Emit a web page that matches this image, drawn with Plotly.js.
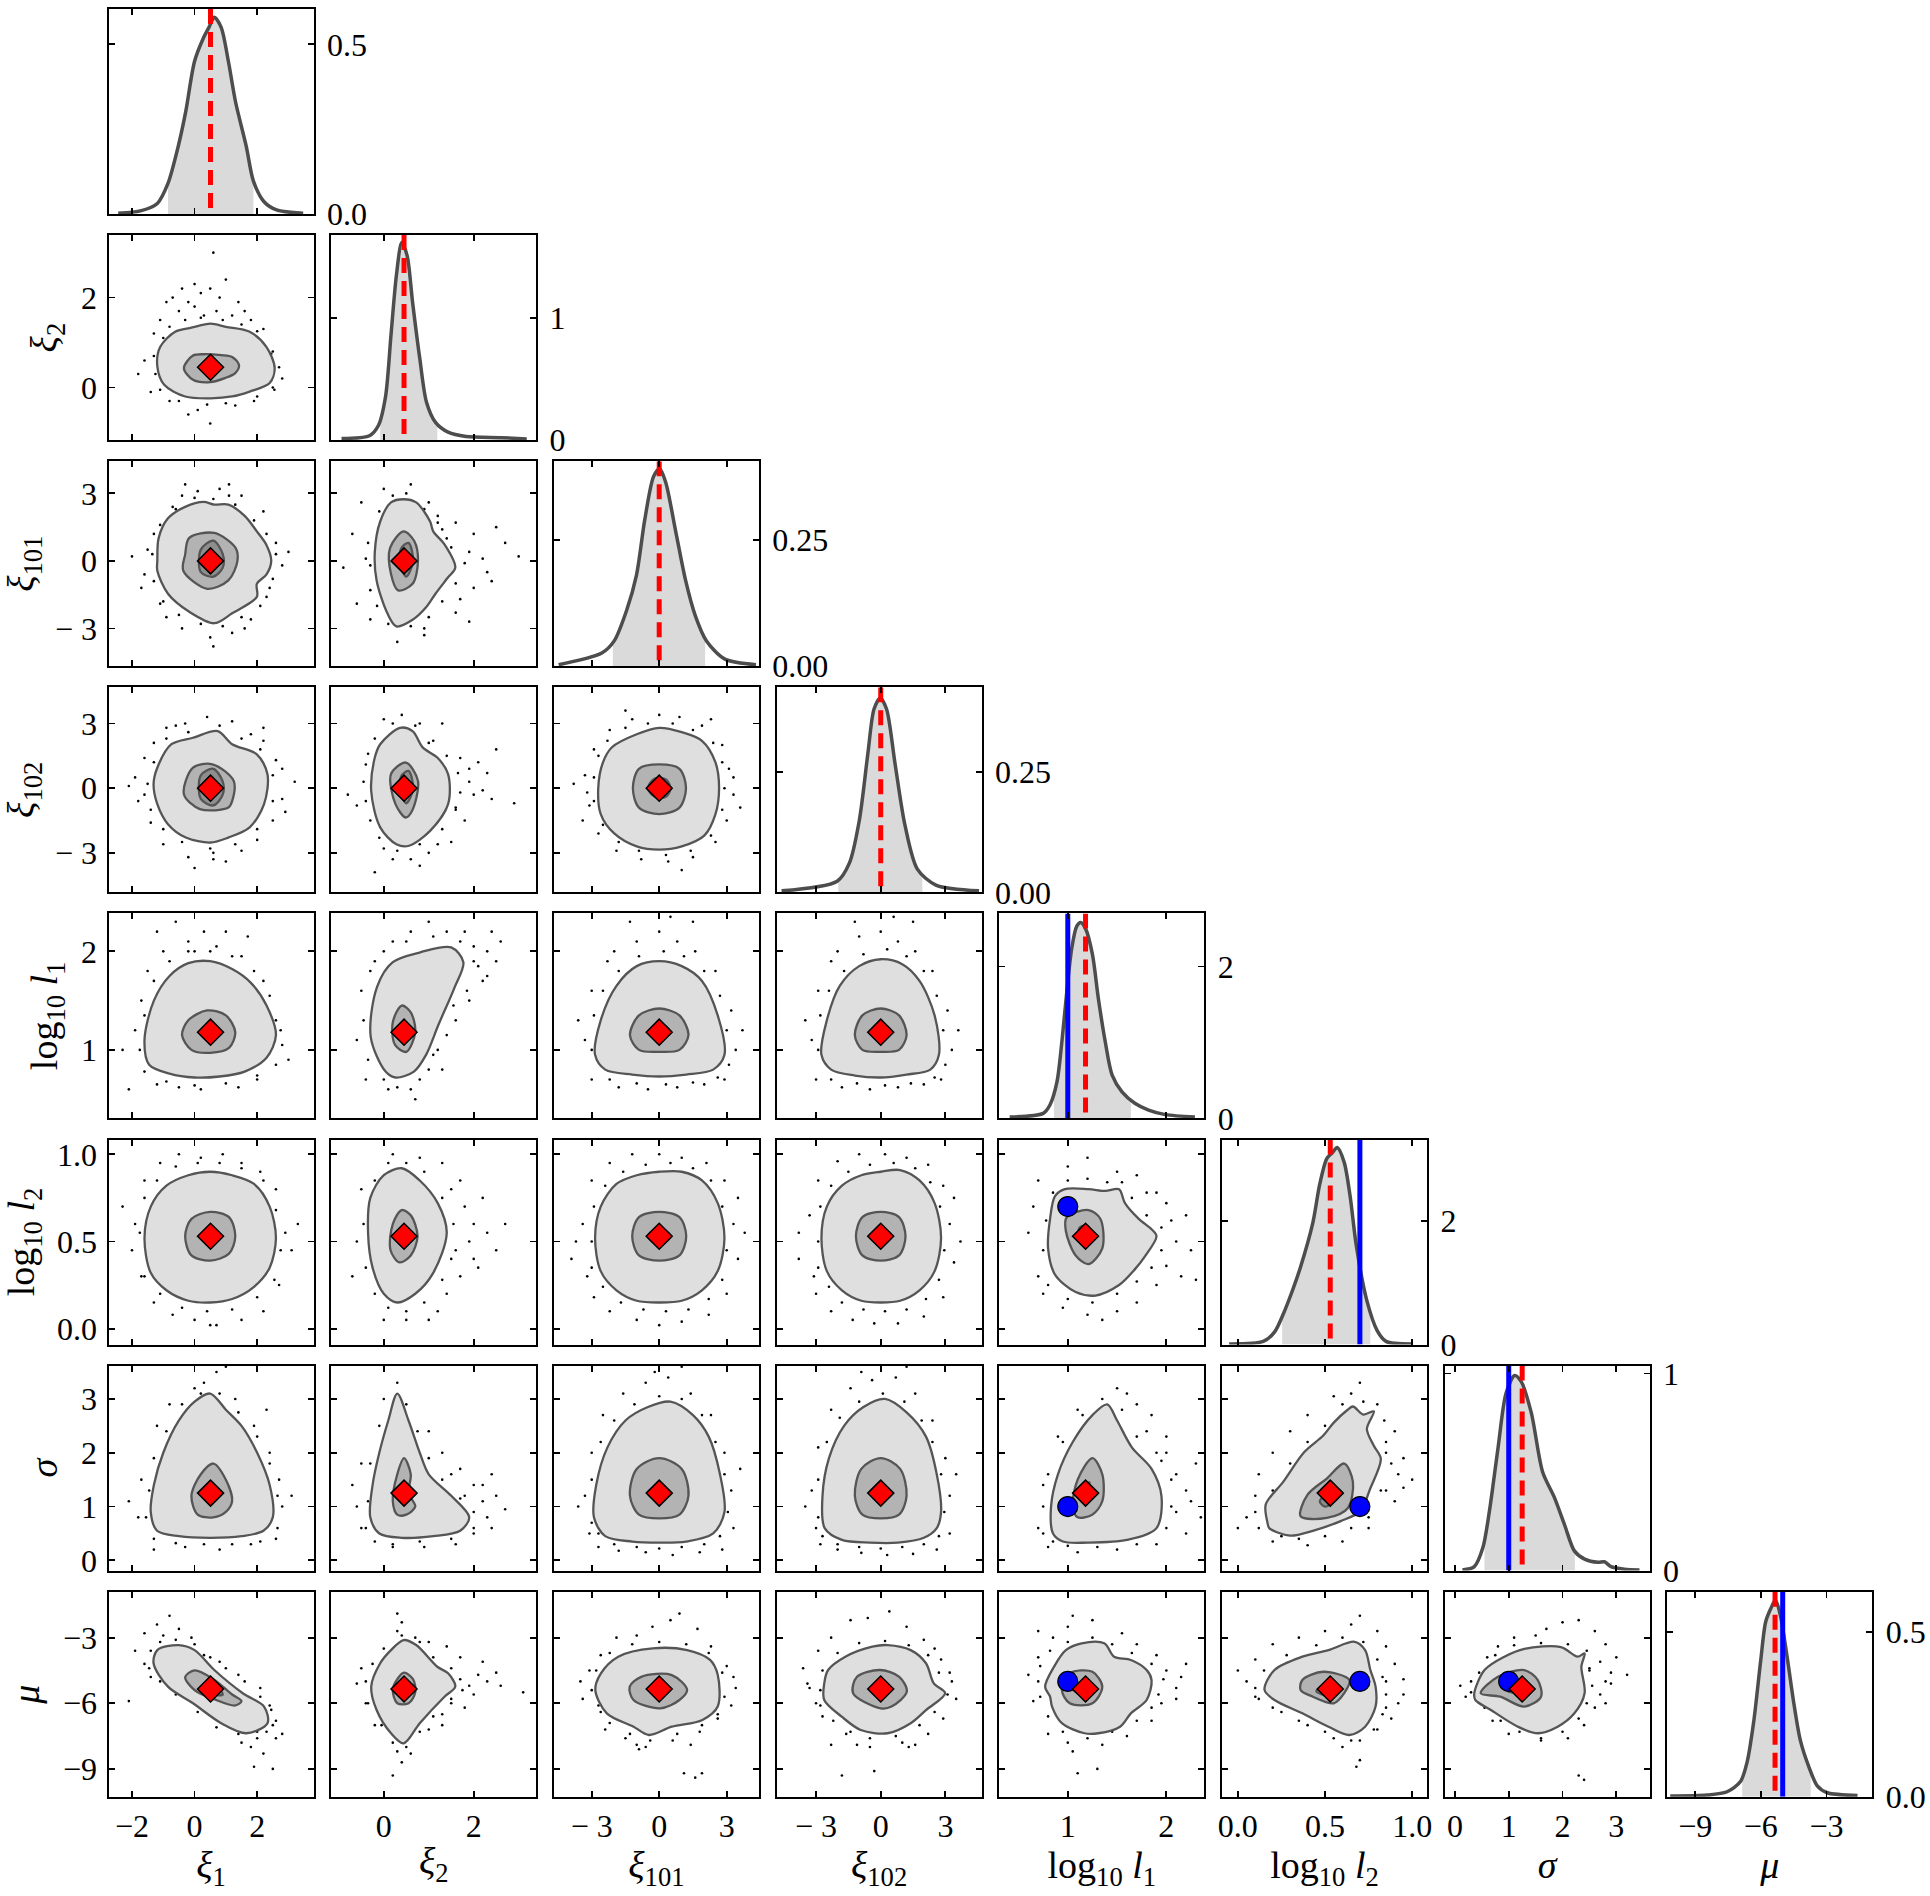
<!DOCTYPE html>
<html><head><meta charset="utf-8">
<script src="https://cdn.plot.ly/plotly-3.0.1.min.js"></script>
<style>html,body{margin:0;padding:0;background:#fff}</style>
</head><body>
<div id="plot" style="width:1930px;height:1896px"></div>
<script>
// ---------------- variables / axes ----------------
const VAR_TITLES = ['<i>ξ</i><sub>1</sub>','<i>ξ</i><sub>2</sub>','<i>ξ</i><sub>101</sub>','<i>ξ</i><sub>102</sub>','log<sub>10</sub> <i>l</i><sub>1</sub>','log<sub>10</sub> <i>l</i><sub>2</sub>','<i>σ</i>','<i>μ</i>'];
const AXIS_RANGES = [[-2.75,3.8],[-1.17,3.39],[-4.68,4.43],[-4.83,4.68],[0.305,2.385],[-0.091,1.085],[-0.19,3.62],[-10.27,-0.9]];
const TICK_VALS = [[-2,0,2],[0,2],[-3,0,3],[-3,0,3],[1,2],[0,0.5,1],[0,1,2,3],[-9,-6,-3]];
const TICK_TEXT = [['−2','0','2'],['0','2'],['− 3','0','3'],['− 3','0','3'],['1','2'],['0.0','0.5','1.0'],['0','1','2','3'],['−9','−6','−3']];
const MEDIAN = [0.51,0.45,0.0,0.0,1.18,0.53,1.25,-5.35];
const TRUTH = [null,null,null,null,1.0,0.70,1.0,-5.0];
const DIAG_YMAX = [0.604,1.68,0.405,0.425,2.70,3.32,1.04,0.622];
const DIAG_TICK_VALS = [[0,0.5],[0,1],[0,0.25],[0,0.25],[0,2],[0,2],[0,1],[0,0.5]];
const DIAG_TICK_TEXT = [['0.0','0.5'],['0','1'],['0.00','0.25'],['0.00','0.25'],['0','2'],['0','2'],['0','1'],['0.0','0.5']];
const SHADE = [[-0.85,1.88],[-0.08,1.19],[-2.06,2.04],[-1.97,1.93],[0.86,1.64],[0.254,0.76],[0.55,2.23],[-6.85,-3.72]];

// ---------------- 1D marginal densities ----------------
const kde_xi1_x = [-2.44,-1.7,-1.19,-0.85,-0.51,-0.28,0,0.29,0.46,0.63,0.85,1.08,1.31,1.65,1.88,2.22,2.62,3.47];
const kde_xi1_y = [0.002,0.01,0.031,0.09,0.204,0.303,0.45,0.52,0.55,0.58,0.55,0.45,0.33,0.20,0.097,0.036,0.012,0.002];
const kde_xi2_x = [-0.94,-0.32,-0.12,0.04,0.16,0.28,0.40,0.52,0.64,0.80,0.95,1.15,1.43,1.83,2.62,3.18];
const kde_xi2_y = [0.014,0.036,0.12,0.36,0.86,1.35,1.62,1.51,1.13,0.67,0.31,0.145,0.065,0.03,0.02,0.01];
const kde_xi101_x = [-4.47,-2.55,-2.0,-1.45,-1.01,-0.64,-0.25,0.02,0.29,0.73,1.17,1.61,2.10,2.92,4.30];
const kde_xi101_y = [0.003,0.026,0.05,0.11,0.18,0.29,0.375,0.39,0.363,0.267,0.17,0.099,0.05,0.014,0.003];
const kde_xi102_x = [-4.6,-2.02,-1.45,-0.99,-0.59,-0.31,-0.02,0.27,0.67,1.13,1.70,2.56,4.56];
const kde_xi102_y = [0.003,0.023,0.061,0.15,0.29,0.38,0.403,0.38,0.265,0.138,0.048,0.015,0.003];
const kde_l1_x = [0.41,0.75,0.82,0.89,0.94,0.99,1.04,1.09,1.13,1.18,1.25,1.31,1.38,1.45,1.55,1.68,1.82,1.99,2.29];
const kde_l1_y = [0.02,0.066,0.18,0.48,1.01,1.67,2.24,2.53,2.58,2.50,2.16,1.58,1.01,0.57,0.35,0.20,0.11,0.05,0.02];
const kde_l2_x = [-0.05,0.146,0.21,0.26,0.31,0.36,0.43,0.47,0.51,0.54,0.57,0.61,0.644,0.68,0.74,0.80,0.85,1.0];
const kde_l2_y = [0.01,0.05,0.2,0.49,0.85,1.26,1.97,2.6,3.01,3.1,3.19,2.95,2.4,1.59,0.71,0.22,0.05,0.01];
const kde_sigma_x = [0.14,0.36,0.52,0.64,0.80,0.95,1.11,1.23,1.42,1.63,1.85,2.04,2.22,2.41,2.66,2.78,2.90,3.15,3.43];
const kde_sigma_y = [0.003,0.02,0.117,0.30,0.62,0.90,0.99,0.96,0.80,0.50,0.37,0.23,0.10,0.058,0.042,0.045,0.02,0.007,0.003];
const kde_mu_x = [-10.14,-8.46,-7.54,-6.93,-6.62,-6.32,-6.01,-5.78,-5.55,-5.33,-5.10,-4.80,-4.49,-4.19,-3.80,-3.42,-2.96,-1.58];
const kde_mu_y = [0.002,0.005,0.015,0.046,0.107,0.23,0.41,0.53,0.57,0.597,0.548,0.425,0.283,0.17,0.09,0.033,0.012,0.004];
const KDE = [[kde_xi1_x,kde_xi1_y],[kde_xi2_x,kde_xi2_y],[kde_xi101_x,kde_xi101_y],[kde_xi102_x,kde_xi102_y],[kde_l1_x,kde_l1_y],[kde_l2_x,kde_l2_y],[kde_sigma_x,kde_sigma_y],[kde_mu_x,kde_mu_y]];

// ---------------- 2D panels: contour outlines and outlying samples ----------------
const c10_outer = [[2.56,0.43],[2.3,0.9],[1.76,1.24],[1.0,1.35],[0.51,1.42],[-0.1,1.33],[-0.62,1.24],[-1.1,0.9],[-1.19,0.47],[-0.97,0.06],[-0.3,-0.2],[0.51,-0.24],[1.2,-0.2],[1.76,-0.09],[2.4,0.1]];
const c10_mid = [[1.42,0.5],[1.2,0.68],[0.85,0.72],[0.3,0.74],[-0.05,0.71],[-0.34,0.43],[-0.05,0.17],[0.5,0.12],[0.97,0.21],[1.3,0.32]];
const c10_inner = [[0.8,0.45],[0.6,0.55],[0.3,0.55],[0.2,0.45],[0.4,0.35],[0.7,0.35]];
const c10_dots = [[0.6,3.0],[-0.4,2.2],[0.0,2.3],[0.2,2.1],[0.8,2.0],[1.0,2.4],[1.4,1.9],[-0.9,1.9],[-0.5,1.7],[0.3,1.6],[1.2,1.6],[1.8,1.5],[-1.1,1.5],[2.2,1.3],[-1.3,1.2],[-1.8,0.3],[2.5,0.0],[2.8,0.2],[-1.4,-0.1],[-0.8,-0.3],[0.1,-0.5],[1.3,-0.4],[0.5,-0.8],[-0.2,-0.6],[1.9,-0.3],[-1.6,0.6],[0.7,1.7],[-0.2,1.9],[1.6,1.7],[2.5,0.8],
 [-1.3,0.7],[-1.25,0.3],[-1.0,1.1],[-0.8,1.35],[-0.3,1.5],[0.2,1.55],[0.9,1.5],[1.5,1.4],[2.0,1.25],[2.45,0.75],[2.7,0.45],[2.55,-0.05],[2.0,-0.2],[1.0,-0.35],[0.4,-0.38],[-0.5,-0.3],[-1.1,-0.05],[0.0,1.8],[0.5,2.2],[-0.7,2.0]];
const c20_outer = [[2.45,0],[2.3,0.7],[1.99,1.31],[1.6,2.0],[1.08,2.5],[0.63,2.5],[0.29,2.62],[-0.3,2.4],[-0.85,1.89],[-1.15,1.0],[-1.19,0],[-1.19,-0.44],[-0.85,-1.46],[-0.17,-2.26],[0.63,-2.77],[1.2,-2.33],[1.99,-1.6],[1.99,-1.02],[2.3,-0.6]];
const c20_mid = [[1.37,0],[1.31,0.58],[0.63,1.24],[-0.17,1.02],[-0.3,0.29],[-0.36,-0.44],[0.4,-1.24],[1.08,-0.87]];
const c20_inner = [[0.9,0.3],[0.6,0.9],[0.2,0.5],[0.2,-0.5],[0.6,-0.7],[0.9,-0.3]];
const c20_dots = [[-1.5,0.5],[-1.6,-0.6],[-1.3,1.2],[-1.1,-1.9],[-0.7,2.4],[-0.4,2.9],[0.1,3.1],[0.8,3.2],[1.5,2.9],[2.2,2.2],[2.6,0.8],[3.0,0.4],[2.5,-0.8],[2.3,-1.6],[1.8,-2.6],[1.2,-3.2],[0.5,-3.4],[-0.4,-3.0],[-0.9,-2.5],[-2.0,0.2],[0.6,-3.8],[1.6,-3.0],[-0.3,3.4],[1.1,3.4],
 [-1.35,0.3],[-1.3,-0.9],[-1.1,1.6],[-0.6,2.3],[0.0,2.8],[0.6,2.75],[1.3,2.5],[1.9,1.8],[2.3,1.2],[2.6,0.3],[2.4,-1.2],[2.1,-2.0],[1.5,-2.5],[0.9,-2.9],[0.2,-2.8],[-0.5,-2.4],[-1.0,-1.8],[2.8,-0.2],[-1.7,-1.2],[1.1,2.9]];
const c21_outer = [[0.44,2.74],[0.72,2.6],[1.03,1.75],[1.1,1.31],[1.35,0.73],[1.59,-0.3],[1.43,-0.73],[1.15,-1.46],[0.95,-2.04],[0.64,-2.62],[0.28,-2.91],[0.08,-2.33],[-0.16,-0.87],[-0.2,0.4],[-0.08,1.75],[0.16,2.6]];
const c21_mid = [[0.44,1.31],[0.68,0.87],[0.76,0],[0.64,-1.02],[0.32,-1.31],[0.16,-0.58],[0.14,0.58]];
const c21_inner = [[0.55,0.8],[0.65,0],[0.5,-0.7],[0.35,0],[0.4,0.6]];
const c21_dots = [[-0.5,2.6],[-0.7,1.2],[-0.9,-0.3],[-0.6,-1.9],[0.0,3.2],[0.6,3.4],[1.0,2.6],[1.2,2.0],[1.6,1.7],[2.0,1.2],[2.5,1.5],[2.7,0.8],[3.0,0.2],[2.3,-0.5],[2.0,-1.2],[1.6,-2.3],[1.9,-2.7],[0.9,-3.0],[0.3,-3.6],[-0.3,-2.6],[1.9,0.4],[2.4,-0.9],[1.4,1.0],[1.7,-1.7],
 [-0.35,0.8],[-0.3,-0.2],[-0.3,-1.3],[-0.1,2.2],[0.2,2.9],[0.5,3.0],[0.9,2.3],[1.3,1.4],[1.5,0.6],[1.8,-0.1],[1.6,-1.0],[1.3,-1.8],[1.0,-2.5],[0.6,-2.9],[0.1,-2.8],[-0.15,-2.0],[2.2,0.1],[1.2,1.7],[0.9,-3.3],[-0.4,0.1]];
const c30_outer = [[2.33,0.65],[1.99,1.57],[1.2,2.04],[0.74,2.65],[-0.05,2.34],[-0.74,2.04],[-1.19,0.95],[-1.31,0.19],[-1.19,-0.74],[-0.85,-1.67],[-0.28,-2.29],[0.51,-2.52],[1.08,-2.29],[1.76,-1.82],[2.22,-0.74]];
const c30_mid = [[1.25,0.34],[0.57,1.11],[-0.05,0.95],[-0.34,-0.28],[0.17,-0.97],[1.08,-0.9],[1.2,-0.6]];
const c30_inner = [[0.9,0.3],[0.6,0.9],[0.2,0.6],[0.2,-0.5],[0.6,-0.8],[0.9,-0.3]];
const c30_dots = [[-1.9,0.5],[-2.1,0.1],[-1.6,1.4],[-1.3,2.1],[-0.9,2.8],[-0.3,3.0],[0.4,3.3],[1.2,3.1],[1.8,2.5],[2.2,2.2],[2.6,1.3],[2.8,-0.5],[3.2,0.3],[2.5,-1.5],[2.0,-2.4],[1.5,-2.9],[0.6,-3.0],[-0.2,-3.2],[-1.0,-2.6],[-1.4,-1.6],[-1.8,-0.6],[0.0,-3.7],[0.6,-3.3],[2.2,2.8],
 [-1.5,0.2],[-1.4,-1.0],[-1.3,1.2],[-0.9,2.3],[-0.2,2.6],[0.8,2.9],[1.5,2.3],[2.1,1.8],[2.5,0.6],[2.5,-0.6],[2.0,-1.9],[1.3,-2.6],[0.5,-2.8],[-0.4,-2.5],[-1.0,-1.9],[-1.6,-0.3],[2.8,0.9],[1.0,-3.4],[-0.6,2.9],[2.9,-1.1]];
const c31_outer = [[0.36,2.8],[0.64,2.65],[0.87,1.88],[1.19,1.42],[1.43,0.65],[1.43,-0.74],[1.03,-1.98],[0.56,-2.67],[0.28,-2.6],[-0.08,-1.82],[-0.28,-0.13],[-0.2,1.42],[-0.08,2.04]];
const c31_mid = [[0.49,1.19],[0.76,0.34],[0.63,-1.05],[0.49,-1.36],[0.26,-0.74],[0.16,0.65]];
const c31_inner = [[0.55,0.8],[0.65,0],[0.5,-0.7],[0.35,0],[0.4,0.6]];
const c31_dots = [[-0.4,1.1],[-0.6,-0.8],[-0.8,-0.3],[0.0,3.2],[0.4,3.4],[0.8,3.0],[1.3,3.0],[1.1,2.2],[1.7,1.4],[2.1,1.2],[2.3,0.7],[2.5,1.8],[2.0,-0.3],[2.4,-0.5],[1.8,-1.5],[2.9,-0.7],[1.5,-2.5],[1.0,-3.0],[0.6,-3.3],[0.0,-2.8],[-0.2,-3.9],[1.9,0.3],[1.6,-0.9],[0.8,-3.6],
 [-0.45,0.3],[-0.4,-0.6],[-0.35,1.6],[-0.2,2.3],[0.2,3.0],[0.7,2.9],[1.0,2.1],[1.4,1.5],[1.65,0.7],[1.7,-0.2],[1.6,-1.0],[1.3,-1.9],[0.8,-2.6],[0.3,-2.9],[-0.1,-2.3],[-0.3,-1.5],[2.2,-0.1],[1.9,0.9],[1.2,-2.6],[0.2,-3.3]];
const c32_outer = [[2.66,0],[2.5,1.2],[1.9,2.2],[1.0,2.6],[0.0,2.8],[-1.0,2.5],[-2.1,1.9],[-2.5,1.2],[-2.71,0],[-2.6,-1.2],[-2.0,-2.1],[-1.0,-2.7],[0,-2.85],[1.0,-2.7],[2.0,-2.2],[2.5,-1.2]];
const c32_mid = [[1.19,0],[0.9,0.9],[0,1.1],[-0.9,0.9],[-1.17,0],[-0.9,-0.9],[0,-1.2],[0.9,-0.9]];
const c32_inner = [[0.5,0],[0.3,0.4],[-0.2,0.45],[-0.5,0],[-0.2,-0.4],[0.3,-0.4]];
const c32_dots = [[-3.3,0.6],[-3.1,-0.8],[-2.9,1.8],[-2.2,2.7],[-1.2,3.2],[0.0,3.4],[0.9,3.3],[1.9,2.9],[2.8,2.0],[3.1,0.9],[3.3,-0.3],[3.0,-1.5],[2.5,-2.5],[1.5,-3.2],[0.4,-3.4],[-0.8,-3.3],[-1.9,-2.9],[-2.7,-2.1],[-3.4,-1.5],[3.6,-0.9],[-3.8,0.2],[1.0,-3.8],[-1.5,3.6],[2.3,3.2],
 [-2.9,0.5],[-2.9,-0.6],[-2.7,1.5],[-2.3,2.2],[-1.5,2.8],[-0.5,3.0],[0.6,3.0],[1.5,2.7],[2.4,2.1],[2.8,1.2],[2.9,0.0],[2.8,-1.0],[2.3,-2.2],[1.4,-2.9],[0.3,-3.1],[-0.9,-2.9],[-1.8,-2.5],[-2.5,-1.7],[-3.2,-0.2],[3.3,0.5]];
const c40_outer = [[2.6,1.15],[2.3,1.45],[1.8,1.68],[1.2,1.82],[0.5,1.9],[-0.2,1.88],[-0.8,1.75],[-1.3,1.5],[-1.6,1.1],[-1.45,0.85],[-0.8,0.76],[0.0,0.72],[0.8,0.73],[1.6,0.78],[2.3,0.92]];
const c40_mid = [[1.3,1.18],[1.0,1.35],[0.4,1.4],[-0.2,1.3],[-0.4,1.15],[-0.1,1.0],[0.5,0.97],[1.1,1.02]];
const c40_inner = [[0.8,1.18],[0.5,1.27],[0.2,1.18],[0.5,1.1]];
const c40_dots = [[-0.6,2.3],[-0.2,2.1],[0.3,2.2],[0.7,2.05],[1.0,2.2],[-1.0,2.0],[1.5,1.95],[-1.5,1.8],[2.2,1.7],[2.6,1.3],[2.8,1.05],[-1.9,1.2],[-2.1,0.6],[-1.2,0.65],[0.2,0.6],[1.4,0.62],[2.0,0.7],[-0.5,0.62],[0.0,2.0],[-1.7,1.5],
 [-1.75,1.0],[-1.6,1.35],[-1.3,1.7],[-0.8,1.9],[-0.2,2.0],[0.5,2.0],[1.2,1.95],[1.9,1.8],[2.4,1.55],[2.75,1.2],[2.6,0.85],[2.0,0.74],[1.0,0.66],[0.0,0.64],[-0.9,0.68],[-1.6,0.78],[3.0,0.9],[-2.3,1.0],[1.7,2.15],[-1.2,2.2]];
const c41_outer = [[0.04,0.78],[-0.29,1.13],[-0.15,1.64],[0.2,1.89],[0.81,1.99],[1.5,2.04],[1.77,1.89],[1.58,1.64],[1.22,1.26],[0.94,0.95],[0.67,0.78],[0.26,0.72]];
const c41_mid = [[0.7,1.18],[0.6,1.38],[0.4,1.45],[0.2,1.28],[0.25,1.05],[0.5,0.98]];
const c41_inner = [[0.55,1.18],[0.45,1.25],[0.35,1.15],[0.45,1.1]];
const c41_dots = [[0.2,2.1],[0.6,2.2],[1.0,2.3],[1.4,2.2],[1.8,2.2],[2.0,2.05],[2.3,2.0],[2.5,1.9],[2.2,1.7],[1.9,1.5],[1.6,1.3],[1.2,1.0],[-0.5,1.6],[-0.6,1.1],[-0.4,0.7],[0.1,0.6],[0.6,0.6],[1.0,0.8],[-0.2,1.9],[2.6,2.1],[2.1,1.85],[1.3,0.8],
 [-0.45,1.3],[-0.35,0.9],[-0.3,1.8],[0.0,2.0],[0.5,2.1],[1.1,2.15],[1.7,2.1],[2.0,1.9],[1.85,1.6],[1.55,1.45],[1.4,1.15],[1.1,0.95],[0.8,0.7],[0.3,0.62],[0.0,0.7],[1.6,1.9],[2.3,1.75],[2.4,2.2],[-0.1,2.4],[0.7,0.5]];
const c42_outer = [[2.9,0.95],[2.6,1.35],[1.9,1.7],[1.0,1.85],[0,1.9],[-1.0,1.85],[-1.9,1.65],[-2.6,1.3],[-2.85,0.95],[-2.4,0.8],[-1.2,0.75],[0,0.73],[1.2,0.75],[2.4,0.8]];
const c42_mid = [[1.3,1.15],[0.9,1.35],[0,1.42],[-0.9,1.35],[-1.3,1.15],[-0.9,1.0],[0,0.98],[0.9,1.0]];
const c42_inner = [[0.5,1.18],[0.2,1.25],[-0.3,1.2],[0,1.12]];
const c42_dots = [[-2.0,2.0],[-1.0,2.1],[0,2.2],[0.8,2.1],[1.6,2.0],[2.5,1.8],[3.2,1.4],[3.4,1.0],[-3.0,1.6],[-3.3,1.1],[-3.0,0.7],[-1.8,0.62],[-0.5,0.6],[0.8,0.62],[2.0,0.65],[2.9,0.7],[-2.3,1.9],[1.5,2.3],
 [-3.0,1.0],[-2.9,1.35],[-2.5,1.6],[-1.8,1.8],[-0.9,1.95],[0.2,2.0],[1.1,1.95],[2.0,1.8],[2.7,1.55],[3.0,1.2],[3.1,0.85],[2.6,0.72],[1.5,0.67],[0.3,0.65],[-1.0,0.66],[-2.2,0.7],[-3.6,1.3],[3.7,1.2],[-1.3,2.3],[0.5,2.35]];
const c43_outer = [[2.7,0.95],[2.5,1.35],[1.8,1.7],[1.0,1.87],[0,1.92],[-1.0,1.85],[-1.9,1.65],[-2.5,1.3],[-2.75,0.95],[-2.3,0.8],[-1.2,0.74],[0,0.72],[1.2,0.75],[2.3,0.8]];
const c43_mid = [[1.2,1.15],[0.85,1.35],[0,1.42],[-0.85,1.35],[-1.2,1.15],[-0.85,1.0],[0,0.98],[0.85,1.0]];
const c43_inner = [[0.5,1.18],[0.2,1.25],[-0.3,1.2],[0,1.12]];
const c43_dots = [[-2.0,2.0],[-1.0,2.15],[0,2.2],[0.8,2.1],[1.6,2.0],[2.4,1.8],[3.1,1.4],[3.3,1.0],[-2.9,1.6],[-3.2,1.1],[-3.0,0.7],[-1.8,0.62],[-0.5,0.6],[0.8,0.62],[2.0,0.65],[2.8,0.7],[-2.3,1.9],[1.5,2.3],
 [-2.9,1.0],[-2.8,1.35],[-2.4,1.6],[-1.7,1.8],[-0.8,1.97],[0.3,2.02],[1.2,1.95],[2.0,1.8],[2.6,1.55],[2.9,1.2],[3.0,0.85],[2.5,0.72],[1.4,0.66],[0.2,0.64],[-1.1,0.66],[-2.3,0.7],[-3.5,1.3],[3.6,1.2],[-1.2,2.3],[0.6,2.35]];
const c50_outer = [[2.6,0.52],[2.4,0.7],[1.9,0.83],[1.2,0.88],[0.5,0.9],[-0.2,0.88],[-0.9,0.82],[-1.4,0.7],[-1.6,0.52],[-1.4,0.32],[-0.9,0.22],[-0.2,0.16],[0.5,0.15],[1.2,0.17],[1.9,0.24],[2.4,0.35]];
const c50_mid = [[1.3,0.53],[1.1,0.64],[0.5,0.67],[-0.1,0.63],[-0.3,0.53],[-0.1,0.42],[0.5,0.39],[1.1,0.43]];
const c50_inner = [[0.8,0.53],[0.5,0.58],[0.2,0.53],[0.5,0.48]];
const c50_dots = [[-1.7,0.3],[-1.9,0.6],[-1.6,0.85],[-1.1,0.95],[-0.5,1.0],[0.2,0.98],[0.9,1.0],[1.5,0.95],[2.1,0.9],[2.6,0.8],[2.9,0.55],[2.7,0.25],[2.2,0.1],[1.5,0.05],[0.7,0.02],[0.0,0.05],[-0.7,0.08],[-1.3,0.15],[3.1,0.45],[-2.0,0.45],
 [-1.75,0.55],[-1.6,0.75],[-1.2,0.85],[-0.6,0.93],[0.1,0.95],[0.8,0.95],[1.5,0.92],[2.2,0.85],[2.6,0.68],[2.75,0.45],[2.55,0.28],[2.0,0.18],[1.2,0.11],[0.4,0.1],[-0.4,0.12],[-1.1,0.2],[-1.6,0.3],[3.3,0.6],[-2.3,0.7],[0.5,0.02]];
const c51_outer = [[1.4,0.55],[1.2,0.72],[0.8,0.85],[0.4,0.92],[0.0,0.88],[-0.3,0.75],[-0.35,0.55],[-0.25,0.35],[0.0,0.2],[0.3,0.15],[0.7,0.2],[1.1,0.32]];
const c51_mid = [[0.75,0.53],[0.6,0.65],[0.4,0.68],[0.2,0.6],[0.15,0.45],[0.35,0.38],[0.6,0.42]];
const c51_inner = [[0.55,0.53],[0.45,0.58],[0.35,0.52],[0.45,0.47]];
const c51_dots = [[1.5,0.8],[1.8,0.7],[2.0,0.6],[2.3,0.55],[2.0,0.4],[1.7,0.3],[2.5,0.45],[1.4,0.2],[1.0,0.05],[0.5,0.05],[0.0,0.05],[-0.6,0.5],[-0.5,0.8],[0.2,1.0],[0.8,0.98],[1.3,0.95],[1.6,0.45],[2.2,0.75],
 [-0.45,0.6],[-0.4,0.35],[-0.2,0.85],[0.1,0.95],[0.5,0.95],[0.9,0.9],[1.3,0.75],[1.55,0.6],[1.5,0.4],[1.3,0.28],[0.9,0.15],[0.5,0.1],[0.1,0.12],[-0.2,0.2],[1.9,0.5],[2.1,0.35],[1.7,0.85],[2.7,0.6],[1.2,0.1],[-0.7,0.3]];
const c52_outer = [[2.9,0.52],[2.6,0.72],[1.9,0.85],[1.0,0.9],[0,0.9],[-1.0,0.88],[-1.9,0.83],[-2.6,0.7],[-2.85,0.52],[-2.6,0.33],[-1.9,0.22],[-1.0,0.16],[0,0.15],[1.0,0.16],[1.9,0.22],[2.6,0.33]];
const c52_mid = [[1.2,0.53],[0.9,0.64],[0,0.67],[-0.9,0.64],[-1.2,0.53],[-0.9,0.42],[0,0.39],[0.9,0.42]];
const c52_inner = [[0.5,0.53],[0,0.58],[-0.5,0.53],[0,0.48]];
const c52_dots = [[-3.2,0.3],[-3.4,0.6],[-3.0,0.85],[-2.2,0.95],[-1.2,1.0],[0,1.0],[1.0,0.98],[2.1,0.95],[2.9,0.85],[3.3,0.6],[3.5,0.4],[3.0,0.2],[2.2,0.08],[1.0,0.04],[0.0,0.02],[-1.0,0.05],[-2.2,0.1],[-2.9,0.18],[-3.7,0.5],[3.8,0.55],
 [-3.0,0.5],[-2.9,0.7],[-2.4,0.82],[-1.6,0.9],[-0.6,0.94],[0.5,0.95],[1.5,0.92],[2.3,0.85],[2.8,0.7],[3.0,0.45],[2.8,0.28],[2.2,0.17],[1.3,0.11],[0.3,0.1],[-0.7,0.11],[-1.7,0.15],[-2.5,0.24],[-3.0,0.35],[3.5,0.75],[-3.9,0.4]];
const c53_outer = [[2.8,0.52],[2.5,0.72],[1.8,0.85],[0.9,0.91],[0,0.9],[-0.9,0.88],[-1.8,0.82],[-2.5,0.7],[-2.75,0.52],[-2.5,0.33],[-1.8,0.22],[-0.9,0.16],[0,0.15],[0.9,0.16],[1.8,0.22],[2.5,0.33]];
const c53_mid = [[1.15,0.53],[0.85,0.64],[0,0.67],[-0.85,0.64],[-1.15,0.53],[-0.85,0.42],[0,0.39],[0.85,0.42]];
const c53_inner = [[0.5,0.53],[0,0.58],[-0.5,0.53],[0,0.48]];
const c53_dots = [[-3.1,0.3],[-3.3,0.65],[-2.9,0.85],[-2.0,0.96],[-1.0,1.0],[0.2,1.0],[1.2,0.98],[2.2,0.94],[2.9,0.82],[3.2,0.6],[3.4,0.38],[2.9,0.18],[2.0,0.07],[0.8,0.03],[-0.3,0.03],[-1.3,0.05],[-2.3,0.1],[-3.0,0.2],[-3.8,0.55],[3.7,0.5],
 [-2.9,0.5],[-2.8,0.7],[-2.3,0.82],[-1.5,0.9],[-0.5,0.94],[0.6,0.95],[1.6,0.92],[2.3,0.84],[2.75,0.7],[2.95,0.45],[2.7,0.28],[2.1,0.17],[1.2,0.11],[0.2,0.1],[-0.8,0.11],[-1.8,0.15],[-2.4,0.24],[-2.9,0.35],[3.4,0.75],[-3.8,0.4]];
const c54_outer = [[1.9,0.53],[1.85,0.57],[1.72,0.63],[1.58,0.72],[1.52,0.8],[1.38,0.79],[1.21,0.8],[0.97,0.8],[0.87,0.76],[0.82,0.63],[0.8,0.46],[0.87,0.31],[1.08,0.21],[1.28,0.19],[1.52,0.25],[1.68,0.34],[1.79,0.42]];
const c54_mid = [[1.21,0.68],[1.33,0.63],[1.35,0.46],[1.21,0.37],[1.08,0.42],[0.98,0.56],[0.99,0.64]];
const c54_inner = [[1.12,0.58],[1.2,0.59],[1.22,0.53],[1.11,0.52]];
const c54_dots = [[1.2,0.98],[1.0,0.93],[0.7,0.85],[1.5,0.9],[1.7,0.88],[1.9,0.78],[2.0,0.72],[2.2,0.65],[2.1,0.5],[2.25,0.45],[2.0,0.36],[1.9,0.25],[1.7,0.15],[1.5,0.1],[1.2,0.08],[0.95,0.12],[0.75,0.2],[0.7,0.3],[0.6,0.55],[0.65,0.7],[2.3,0.28],[1.35,0.05],
 [0.75,0.45],[0.78,0.62],[0.85,0.78],[1.0,0.85],[1.2,0.86],[1.4,0.84],[1.55,0.84],[1.65,0.75],[1.8,0.65],[1.95,0.58],[1.95,0.45],[1.85,0.35],[1.7,0.27],[1.5,0.2],[1.25,0.15],[1.0,0.17],[0.8,0.25],[2.05,0.62],[1.8,0.78],[2.15,0.3]];
const c60_outer = [[2.5,0.8],[2.4,1.4],[2.0,2.0],[1.5,2.5],[1.0,2.8],[0.5,3.1],[0.0,2.95],[-0.5,2.6],[-1.0,2.0],[-1.3,1.4],[-1.4,0.9],[-1.2,0.55],[-0.5,0.45],[0.5,0.42],[1.5,0.45],[2.2,0.55]];
const c60_mid = [[1.2,1.1],[1.0,1.5],[0.6,1.8],[0.2,1.6],[-0.1,1.2],[0.1,0.85],[0.6,0.8],[1.0,0.9]];
const c60_inner = [[0.75,1.25],[0.5,1.4],[0.3,1.25],[0.5,1.1]];
const c60_dots = [[0.3,3.3],[0.7,3.5],[0.0,3.2],[1.3,3.0],[-0.8,2.9],[1.9,2.5],[2.4,2.0],[2.7,1.5],[2.8,1.0],[-1.2,2.5],[-1.7,1.5],[-1.8,0.8],[-1.3,0.2],[-0.3,0.25],[0.8,0.2],[1.8,0.3],[2.6,0.4],[2.3,2.8],
 [-1.55,0.8],[-1.45,1.3],[-1.3,1.9],[-0.9,2.4],[-0.4,2.9],[0.2,3.1],[0.8,3.1],[1.4,2.75],[2.0,2.3],[2.4,1.8],[2.65,1.2],[2.65,0.6],[2.1,0.35],[1.2,0.3],[0.3,0.3],[-0.6,0.32],[-1.3,0.4],[3.1,1.2],[-2.1,1.1],[1.0,3.6]];
const c61_outer = [[0.3,3.1],[0.55,2.6],[0.8,2.0],[1.0,1.6],[1.5,1.2],[1.9,0.8],[1.7,0.55],[1.1,0.45],[0.4,0.42],[-0.1,0.5],[-0.3,0.8],[-0.25,1.4],[-0.1,2.0],[0.1,2.6]];
const c61_mid = [[0.55,1.25],[0.6,1.6],[0.45,1.9],[0.3,1.6],[0.2,1.1],[0.3,0.85],[0.5,0.85],[0.7,1.0]];
const c61_inner = [[0.55,1.25],[0.45,1.4],[0.35,1.25],[0.45,1.1]];
const c61_dots = [[1.0,2.4],[1.3,2.0],[1.7,1.7],[2.0,1.4],[2.2,1.1],[2.5,1.2],[2.3,0.8],[2.0,0.5],[1.6,0.3],[0.9,0.25],[0.2,0.25],[-0.5,0.6],[-0.6,1.0],[-0.5,1.8],[0.0,3.0],[2.7,0.95],[1.8,1.2],[2.4,1.6],
 [-0.35,1.1],[-0.4,0.6],[-0.3,1.8],[-0.1,2.5],[0.3,3.3],[0.5,2.9],[0.75,2.4],[1.0,1.9],[1.3,1.5],[1.7,1.15],[2.0,0.9],[2.0,0.6],[1.5,0.4],[0.8,0.35],[0.2,0.3],[-0.2,0.35],[2.4,0.6],[1.5,1.6],[2.2,1.4],[-0.7,1.4]];
const c62_outer = [[2.9,0.9],[2.7,1.6],[2.2,2.3],[1.5,2.7],[0.5,2.95],[-0.5,2.85],[-1.5,2.6],[-2.3,2.1],[-2.8,1.4],[-2.9,0.8],[-2.4,0.45],[-1.2,0.35],[0,0.33],[1.2,0.35],[2.4,0.5]];
const c62_mid = [[1.3,1.2],[1.0,1.7],[0,1.9],[-1.0,1.7],[-1.3,1.2],[-0.9,0.85],[0,0.78],[0.9,0.85]];
const c62_inner = [[0.5,1.25],[0,1.4],[-0.5,1.25],[0,1.1]];
const c62_dots = [[-3.1,0.5],[-3.3,1.2],[-3.0,2.0],[-2.5,2.7],[-1.6,3.1],[-0.6,3.3],[0.4,3.4],[1.4,3.1],[2.3,2.7],[2.9,2.0],[3.2,1.3],[3.3,0.6],[2.8,0.2],[1.8,0.15],[0.6,0.1],[-0.6,0.15],[-1.8,0.18],[-2.7,0.25],[1.0,3.6],[-0.2,3.5],
 [-3.0,0.7],[-3.0,1.5],[-2.6,2.2],[-2.0,2.6],[-1.1,2.9],[0.0,3.05],[1.0,3.0],[1.9,2.7],[2.5,2.2],[2.9,1.6],[3.05,0.9],[2.7,0.45],[2.0,0.3],[1.0,0.25],[0.0,0.22],[-1.0,0.25],[-2.0,0.3],[-2.7,0.5],[3.6,1.7],[-3.6,1.0]];
const c63_outer = [[2.8,0.9],[2.6,1.6],[2.1,2.3],[1.2,2.75],[0.2,3.0],[-0.8,2.85],[-1.7,2.5],[-2.4,1.9],[-2.7,1.2],[-2.6,0.6],[-1.8,0.38],[-0.5,0.33],[0.8,0.33],[2.0,0.42],[2.6,0.6]];
const c63_mid = [[1.2,1.2],[0.9,1.7],[0,1.9],[-0.9,1.7],[-1.2,1.2],[-0.85,0.85],[0,0.78],[0.85,0.85]];
const c63_inner = [[0.5,1.25],[0,1.4],[-0.5,1.25],[0,1.1]];
const c63_dots = [[-3.0,0.6],[-3.2,1.3],[-2.9,2.1],[-2.3,2.8],[-1.4,3.2],[-0.4,3.35],[0.7,3.4],[1.6,3.1],[2.4,2.6],[3.0,1.9],[3.2,1.2],[3.2,0.5],[2.6,0.2],[1.5,0.12],[0.3,0.1],[-0.9,0.14],[-2.0,0.2],[-2.8,0.3],[1.2,3.6],[-0.9,3.5],
 [-2.9,0.8],[-2.9,1.5],[-2.5,2.2],[-1.9,2.65],[-1.0,2.95],[0.1,3.1],[1.1,2.95],[1.9,2.6],[2.4,2.2],[2.8,1.6],[2.95,0.9],[2.7,0.45],[2.0,0.3],[1.0,0.25],[0.0,0.22],[-1.0,0.25],[-2.0,0.3],[-2.7,0.45],[3.5,1.6],[-3.5,1.0]];
const c64_outer = [[0.85,0.5],[0.83,1.0],[0.9,1.6],[1.05,2.2],[1.25,2.7],[1.4,2.9],[1.5,2.6],[1.65,2.1],[1.85,1.7],[1.95,1.2],[1.9,0.6],[1.6,0.38],[1.2,0.33],[0.95,0.35]];
const c64_mid = [[1.05,1.0],[1.1,1.5],[1.25,1.9],[1.35,1.6],[1.35,1.1],[1.25,0.85],[1.1,0.8]];
const c64_inner = [[1.18,1.25],[1.22,1.45],[1.14,1.35],[1.12,1.15]];
const c64_dots = [[0.7,0.6],[0.75,1.4],[0.9,2.3],[1.1,2.8],[1.5,3.2],[1.7,2.9],[1.8,2.4],[2.0,2.0],[2.1,1.6],[2.2,1.3],[2.1,0.9],[2.2,0.5],[1.9,0.3],[1.5,0.2],[1.1,0.15],[0.8,0.25],[2.0,2.3],[1.6,3.1],[1.95,1.85],[2.25,1.1],
 [0.75,0.5],[0.75,1.0],[0.8,1.6],[0.95,2.2],[1.15,2.7],[1.35,3.0],[1.55,2.8],[1.7,2.3],[1.9,2.0],[2.05,1.5],[2.05,1.0],[2.0,0.6],[1.7,0.3],[1.3,0.25],[1.0,0.27],[0.85,0.35],[2.3,1.8],[2.35,0.8],[2.4,1.4],[1.85,2.7]];
const c65_outer = [[0.17,0.70],[0.16,1.04],[0.26,1.46],[0.38,2.01],[0.49,2.32],[0.55,2.56],[0.63,2.8],[0.66,2.86],[0.72,2.71],[0.78,2.77],[0.74,2.44],[0.78,2.13],[0.82,1.89],[0.76,1.34],[0.70,0.91],[0.59,0.73],[0.43,0.55],[0.30,0.46],[0.18,0.60]];
const c65_mid = [[0.61,1.80],[0.66,1.46],[0.63,0.97],[0.51,0.79],[0.36,0.82],[0.40,1.22],[0.51,1.52]];
const c65_inner = [[0.47,1.1],[0.55,1.3],[0.58,1.2],[0.5,1.0]];
const c65_dots = [[0.05,0.8],[0.1,1.2],[0.0,0.6],[0.2,0.35],[0.4,0.28],[0.6,0.35],[0.75,0.6],[0.9,1.1],[0.92,1.6],[0.85,2.0],[0.9,2.4],[0.8,2.9],[0.65,3.1],[0.55,3.05],[0.4,2.7],[0.3,2.4],[0.2,2.0],[0.12,1.6],[0.85,1.3],[0.95,1.35],
 [0.1,0.9],[0.12,0.6],[0.2,1.3],[0.3,1.8],[0.4,2.2],[0.5,2.5],[0.6,2.9],[0.72,2.95],[0.84,2.6],[0.85,2.2],[0.88,1.8],[0.82,1.3],[0.75,0.8],[0.65,0.6],[0.5,0.45],[0.35,0.4],[0.25,0.45],[0.95,1.9],[1.0,1.5],[0.7,3.3]];
const c70_outer = [[-1.19,-3.57],[-0.51,-3.34],[0.0,-3.57],[0.63,-4.48],[1.54,-5.54],[2.22,-6.15],[2.33,-6.91],[1.65,-7.37],[0.85,-6.91],[-0.05,-6.0],[-0.85,-5.24],[-1.31,-4.17]];
const c70_mid = [[-0.3,-4.8],[0.0,-4.5],[0.6,-4.9],[1.2,-5.6],[1.5,-5.9],[1.3,-6.1],[0.6,-5.8],[0.0,-5.4]];
const c70_inner = [[0.3,-5.2],[0.6,-5.1],[0.9,-5.6],[0.6,-5.6]];
const c70_dots = [[-1.6,-2.8],[-1.2,-2.4],[-0.8,-2.0],[-0.5,-2.6],[-0.1,-3.0],[-1.9,-3.6],[-1.6,-4.2],[-1.4,-4.8],[-0.8,-5.0],[0.3,-3.8],[0.8,-4.1],[1.4,-4.7],[2.1,-5.3],[2.4,-6.1],[2.6,-6.8],[2.0,-7.6],[1.5,-7.8],[2.2,-8.3],[2.5,-9.0],[1.9,-8.9],[-2.1,-5.9],[1.1,-7.0],[2.8,-7.4],[2.3,-7.3],
 [-1.4,-3.6],[-1.1,-3.2],[-0.6,-3.1],[0.0,-3.3],[0.5,-3.9],[1.0,-4.4],[1.6,-5.0],[2.1,-5.7],[2.45,-6.3],[2.5,-7.0],[2.0,-7.3],[1.4,-7.4],[0.7,-7.1],[0.1,-6.4],[-0.6,-5.6],[-1.1,-5.0],[-1.45,-4.4],[2.6,-7.6],[1.8,-8.0],[-1.0,-2.9]];
const c71_outer = [[0.44,-3.11],[0.72,-3.34],[1.19,-4.33],[1.43,-4.63],[1.59,-5.24],[1.35,-5.7],[0.80,-6.91],[0.44,-7.83],[0.16,-7.37],[-0.16,-6.31],[-0.28,-5.24],[-0.08,-4.17],[0.16,-3.57]];
const c71_mid = [[0.45,-4.6],[0.65,-4.9],[0.7,-5.5],[0.55,-6.0],[0.3,-6.0],[0.2,-5.4],[0.3,-4.9]];
const c71_inner = [[0.45,-5.1],[0.55,-5.35],[0.45,-5.6],[0.35,-5.35]];
const c71_dots = [[0.3,-1.9],[0.4,-2.3],[0.3,-2.7],[0.7,-3.0],[1.0,-3.2],[1.4,-3.4],[1.7,-3.9],[2.2,-4.1],[2.5,-4.6],[3.1,-5.5],[2.3,-5.0],[2.0,-5.6],[1.8,-6.2],[1.3,-6.5],[1.0,-7.2],[0.6,-8.3],[0.3,-8.2],[0.2,-9.3],[-0.6,-5.1],[-0.4,-6.0],[-0.2,-7.0],[-0.5,-4.4],[1.5,-5.8],[2.6,-5.2],
 [0.4,-2.9],[0.8,-3.2],[1.1,-3.9],[1.5,-4.4],[1.7,-4.9],[1.75,-5.4],[1.5,-6.0],[1.1,-6.6],[0.8,-7.3],[0.5,-8.0],[0.2,-7.8],[-0.05,-7.0],[-0.35,-6.0],[-0.4,-5.0],[-0.25,-4.2],[0.0,-3.5],[1.9,-5.2],[2.1,-4.7],[1.3,-7.0],[0.4,-8.7]];
const c72_outer = [[-2.84,-5.39],[-2.59,-4.63],[-1.82,-3.87],[-0.29,-3.49],[1.24,-3.57],[2.26,-4.02],[2.6,-4.7],[2.6,-6.15],[1.92,-6.76],[0.56,-7.07],[-0.46,-7.45],[-1.14,-7.07],[-2.33,-6.46]];
const c72_mid = [[-1.31,-5.24],[-0.8,-4.79],[0.56,-4.71],[1.24,-5.39],[0.9,-5.85],[0.05,-6.23],[-1.14,-5.85]];
const c72_inner = [[0.4,-5.3],[0.2,-5.1],[-0.2,-5.3],[0.1,-5.6]];
const c72_dots = [[-3.4,-5.8],[-3.1,-4.5],[-2.6,-3.8],[-1.9,-3.0],[-1.0,-2.9],[-0.3,-2.5],[0.5,-2.2],[0.9,-1.9],[1.7,-2.6],[2.3,-3.4],[3.0,-4.3],[3.4,-5.3],[3.2,-6.1],[2.6,-6.7],[1.8,-7.3],[0.6,-7.7],[-0.6,-8.0],[-1.5,-7.6],[-2.4,-7.2],[-2.6,-6.4],[1.1,-9.2],[1.6,-9.4],[1.9,-9.2],[-0.9,-8.1],
 [-3.0,-5.4],[-2.8,-4.5],[-2.2,-3.7],[-1.2,-3.3],[0.0,-3.2],[1.2,-3.3],[2.2,-3.7],[2.8,-4.6],[2.9,-5.7],[2.6,-6.5],[1.9,-7.0],[0.8,-7.4],[-0.4,-7.7],[-1.3,-7.4],[-2.2,-6.9],[-2.7,-6.1],[3.3,-4.8],[-3.5,-5.0],[1.4,-7.9],[-1.0,-7.9]];
const c73_outer = [[-2.62,-5.09],[-2.44,-4.48],[-1.64,-3.87],[-0.39,-3.41],[0.32,-3.34],[1.39,-3.57],[2.1,-4.17],[2.46,-5.09],[2.99,-5.54],[2.1,-6.31],[1.39,-6.91],[0.32,-7.37],[-0.93,-7.22],[-1.81,-6.61],[-2.62,-5.85]];
const c73_mid = [[-1.1,-4.79],[-0.04,-4.48],[0.86,-4.79],[1.21,-5.47],[0.5,-6.15],[0.0,-6.23],[-1.28,-5.54]];
const c73_inner = [[0.4,-5.3],[0.1,-5.05],[-0.3,-5.3],[0.0,-5.6]];
const c73_dots = [[-3.3,-5.3],[-3.6,-4.4],[-2.9,-3.6],[-2.3,-3.0],[-1.4,-2.2],[-0.6,-2.1],[0.4,-1.8],[1.2,-2.5],[2.0,-3.1],[2.8,-4.0],[3.3,-5.0],[3.5,-5.8],[2.9,-6.7],[2.2,-7.4],[1.0,-7.8],[-0.5,-8.0],[-1.6,-7.4],[-2.7,-6.6],[-3.0,-6.0],[-1.8,-9.3],[-0.3,-9.1],[2.5,-3.5],[1.6,-7.9],[-2.3,-7.9],
 [-2.8,-5.4],[-2.7,-4.5],[-2.0,-3.7],[-1.0,-3.25],[0.2,-3.15],[1.3,-3.35],[2.2,-3.8],[2.7,-4.6],[3.1,-5.6],[2.5,-6.4],[1.8,-7.0],[0.7,-7.5],[-0.5,-7.6],[-1.4,-7.3],[-2.2,-6.8],[-2.8,-6.1],[3.2,-4.6],[-3.4,-5.1],[1.3,-8.0],[-1.1,-7.9]];
const c74_outer = [[1.85,-4.94],[1.80,-4.48],[1.64,-4.02],[1.47,-3.87],[1.37,-3.26],[1.14,-3.26],[0.98,-3.57],[0.86,-4.33],[0.77,-5.24],[0.82,-5.7],[0.84,-6.15],[0.94,-6.91],[1.17,-7.37],[1.31,-7.37],[1.53,-7.07],[1.64,-6.46],[1.80,-5.85]];
const c74_mid = [[1.02,-4.63],[1.25,-4.56],[1.35,-5.24],[1.25,-6.0],[1.02,-6.0],[0.94,-5.39]];
const c74_inner = [[1.15,-5.1],[1.25,-5.3],[1.15,-5.6],[1.05,-5.35]];
const c74_dots = [[1.05,-2.0],[1.25,-2.2],[1.0,-2.5],[0.7,-2.7],[1.55,-2.8],[1.7,-3.3],[1.9,-3.8],[2.0,-4.5],[2.1,-5.3],[1.95,-6.0],[1.85,-6.8],[1.6,-7.5],[1.35,-7.9],[1.0,-7.8],[0.8,-7.4],[0.65,-5.9],[0.6,-4.7],[0.7,-3.9],[1.3,-9.0],[1.1,-9.2],[0.85,-3.0],[2.2,-4.2],
 [0.7,-5.0],[0.72,-4.3],[0.82,-3.6],[1.0,-3.2],[1.25,-3.0],[1.45,-3.3],[1.65,-3.7],[1.85,-4.2],[1.97,-4.9],[1.92,-5.6],[1.85,-6.2],[1.7,-6.8],[1.45,-7.3],[1.2,-7.6],[0.95,-7.3],[0.8,-6.6],[0.72,-5.7],[2.1,-5.8],[2.15,-4.8],[1.05,-8.2]];
const c75_outer = [[0.153,-5.39],[0.21,-4.48],[0.37,-3.87],[0.52,-3.57],[0.67,-3.19],[0.73,-3.57],[0.76,-4.48],[0.79,-5.24],[0.79,-6.15],[0.73,-7.07],[0.64,-7.45],[0.52,-7.07],[0.37,-6.46],[0.21,-5.85]];
const c75_mid = [[0.37,-4.94],[0.49,-4.56],[0.64,-4.94],[0.61,-5.54],[0.55,-6.0],[0.43,-5.7],[0.36,-5.39]];
const c75_inner = [[0.50,-5.2],[0.58,-5.4],[0.52,-5.65],[0.45,-5.45]];
const c75_dots = [[0.05,-5.0],[0.0,-4.5],[0.1,-4.0],[0.2,-3.3],[0.35,-3.0],[0.5,-2.7],[0.65,-2.4],[0.7,-2.0],[0.85,-3.4],[0.9,-4.2],[0.85,-5.0],[0.95,-5.6],[0.85,-6.2],[0.8,-7.2],[0.7,-7.7],[0.55,-7.6],[0.4,-7.0],[0.25,-6.4],[0.1,-5.7],[0.7,-8.6],[0.68,-8.9],[0.88,-6.7],
 [0.1,-5.3],[0.15,-4.5],[0.28,-3.8],[0.45,-3.35],[0.6,-3.0],[0.72,-3.2],[0.8,-4.0],[0.83,-4.8],[0.85,-5.6],[0.83,-6.5],[0.78,-7.2],[0.65,-7.7],[0.5,-7.3],[0.35,-6.8],[0.2,-6.2],[0.12,-5.8],[0.95,-4.9],[0.92,-6.0],[0.6,-8.0],[0.8,-2.7]];
const c76_outer = [[0.36,-5.54],[0.55,-4.48],[0.92,-3.87],[1.29,-3.51],[1.97,-3.43],[2.28,-3.87],[2.41,-3.72],[2.35,-4.33],[2.41,-5.54],[2.22,-6.46],[1.91,-7.07],[1.54,-7.37],[1.17,-7.07],[0.67,-6.31],[0.38,-5.85]];
const c76_mid = [[0.48,-5.54],[0.80,-4.79],[1.29,-4.48],[1.54,-4.94],[1.6,-5.7],[1.29,-6.15],[0.84,-5.7]];
const c76_inner = [[1.0,-5.0],[1.35,-5.2],[1.3,-5.5],[0.95,-5.4]];
const c76_dots = [[0.2,-5.7],[0.3,-5.0],[0.6,-3.9],[0.8,-3.4],[1.1,-3.0],[1.5,-2.9],[1.7,-2.6],[2.0,-2.3],[2.3,-2.2],[2.6,-2.7],[2.8,-3.3],[3.0,-3.9],[3.2,-4.7],[2.9,-5.1],[2.7,-5.6],[2.6,-6.2],[2.4,-7.0],[2.1,-7.6],[1.6,-7.7],[1.0,-7.4],[0.7,-6.8],[2.3,-9.3],[2.4,-9.5],[2.8,-5.0],[2.5,-4.5],
 [0.3,-5.5],[0.45,-4.6],[0.75,-3.8],[1.1,-3.35],[1.6,-3.25],[2.1,-3.3],[2.45,-3.6],[2.5,-4.4],[2.55,-5.2],[2.45,-6.0],[2.3,-6.7],[2.0,-7.3],[1.6,-7.6],[1.2,-7.3],[0.85,-6.8],[0.55,-6.2],[2.7,-4.1],[2.9,-4.6],[2.8,-6.0],[0.1,-5.2]];

const PANEL_TABLE = [
 [1,0,c10_outer,c10_mid,c10_inner,c10_dots],
 [2,0,c20_outer,c20_mid,c20_inner,c20_dots],[2,1,c21_outer,c21_mid,c21_inner,c21_dots],
 [3,0,c30_outer,c30_mid,c30_inner,c30_dots],[3,1,c31_outer,c31_mid,c31_inner,c31_dots],[3,2,c32_outer,c32_mid,c32_inner,c32_dots],
 [4,0,c40_outer,c40_mid,c40_inner,c40_dots],[4,1,c41_outer,c41_mid,c41_inner,c41_dots],[4,2,c42_outer,c42_mid,c42_inner,c42_dots],[4,3,c43_outer,c43_mid,c43_inner,c43_dots],
 [5,0,c50_outer,c50_mid,c50_inner,c50_dots],[5,1,c51_outer,c51_mid,c51_inner,c51_dots],[5,2,c52_outer,c52_mid,c52_inner,c52_dots],[5,3,c53_outer,c53_mid,c53_inner,c53_dots],[5,4,c54_outer,c54_mid,c54_inner,c54_dots],
 [6,0,c60_outer,c60_mid,c60_inner,c60_dots],[6,1,c61_outer,c61_mid,c61_inner,c61_dots],[6,2,c62_outer,c62_mid,c62_inner,c62_dots],[6,3,c63_outer,c63_mid,c63_inner,c63_dots],[6,4,c64_outer,c64_mid,c64_inner,c64_dots],[6,5,c65_outer,c65_mid,c65_inner,c65_dots],
 [7,0,c70_outer,c70_mid,c70_inner,c70_dots],[7,1,c71_outer,c71_mid,c71_inner,c71_dots],[7,2,c72_outer,c72_mid,c72_inner,c72_dots],[7,3,c73_outer,c73_mid,c73_inner,c73_dots],[7,4,c74_outer,c74_mid,c74_inner,c74_dots],[7,5,c75_outer,c75_mid,c75_inner,c75_dots],[7,6,c76_outer,c76_mid,c76_inner,c76_dots]
];

// ---------------- build figure ----------------
const FONT = '"Liberation Serif","Times New Roman",serif';
const W = 1930, H = 1896;
const PANEL = 205, COL0 = 108.5, COL_PITCH = 222.7, ROW0 = 9, ROW_PITCH = 226.1;
const GRAY_LINE = '#555555';
const TICK_SIZE = 32, TITLE_SIZE = 38;
const traces = [];
const layout = {width:W, height:H, margin:{l:0,r:0,t:0,b:0}, paper_bgcolor:'#fff', plot_bgcolor:'#fff', showlegend:false, font:{family:FONT,color:'#000'}};

function baseAxis(){
  return {ticks:'inside', ticklen:6, tickwidth:1.8, tickcolor:'#000', showline:true, linecolor:'#000', linewidth:2,
    mirror:'allticks', showgrid:false, zeroline:false, automargin:false, fixedrange:true,
    tickfont:{family:FONT,size:TICK_SIZE,color:'#000'}, ticklabelstandoff:0, tickmode:'array'};
}
const panelIndex = {};
let k = 0;
function addAxes(r,c){
  k++;
  const sfx = k===1 ? '' : String(k);
  const x0 = (COL0 + c*COL_PITCH)/W, x1 = (COL0 + c*COL_PITCH + PANEL)/W;
  const yt = ROW0 + r*ROW_PITCH, yb = yt + PANEL;
  const xa = Object.assign(baseAxis(), {domain:[x0,x1], anchor:'y'+sfx, range:AXIS_RANGES[c], tickvals:TICK_VALS[c], ticktext:TICK_TEXT[c], showticklabels: r===7});
  if (r===7) xa.title = {text:VAR_TITLES[c], font:{family:FONT,size:TITLE_SIZE,color:'#000'}, standoff:4};
  const ya = Object.assign(baseAxis(), {domain:[1-yb/H, 1-yt/H], anchor:'x'+sfx});
  if (r===c){
    Object.assign(ya, {range:[0,DIAG_YMAX[r]], tickvals:DIAG_TICK_VALS[r], ticktext:DIAG_TICK_TEXT[r], side:'right', showticklabels:true, ticklabelstandoff:5});
  } else {
    Object.assign(ya, {range:AXIS_RANGES[r], tickvals:TICK_VALS[r], ticktext:TICK_TEXT[r], showticklabels: c===0, ticklabelstandoff:3});
    if (c===0) ya.title = {text:VAR_TITLES[r], font:{family:FONT,size:TITLE_SIZE,color:'#000'}, standoff:12};
  }
  layout['xaxis'+sfx] = xa; layout['yaxis'+sfx] = ya;
  return {x:'x'+sfx, y:'y'+sfx};
}

function interp(xs, ys, x){
  for (let i=0;i<xs.length-1;i++){
    if (x>=xs[i] && x<=xs[i+1]){ const t=(x-xs[i])/(xs[i+1]-xs[i]); return ys[i]+t*(ys[i+1]-ys[i]); }
  }
  return 0;
}
function closed(pts, idx){ const a = pts.map(p=>p[idx]); a.push(pts[0][idx]); return a; }

for (let r=0;r<8;r++){
  for (let c=0;c<=r;c++){
    const ax = addAxes(r,c);
    if (r===c){
      const [xs, ys] = KDE[r];
      const [lo, hi] = SHADE[r];
      const fx=[lo], fy=[interp(xs,ys,lo)];
      xs.forEach((x,i)=>{ if (x>lo && x<hi){ fx.push(x); fy.push(ys[i]); } });
      fx.push(hi); fy.push(interp(xs,ys,hi));
      traces.push({type:'scatter', mode:'lines', x:fx, y:fy, xaxis:ax.x, yaxis:ax.y, fill:'tozeroy', fillcolor:'#dadada', line:{width:0, shape:'spline', smoothing:0.8}, hoverinfo:'skip'});
      traces.push({type:'scatter', mode:'lines', x:xs, y:ys, xaxis:ax.x, yaxis:ax.y, line:{color:'#4d4d4d', width:3.5, shape:'spline', smoothing:0.8}, hoverinfo:'skip'});
      if (TRUTH[r] !== null){
        traces.push({type:'scatter', mode:'lines', x:[TRUTH[r],TRUTH[r]], y:[0,DIAG_YMAX[r]], xaxis:ax.x, yaxis:ax.y, line:{color:'#0000ff', width:5}, hoverinfo:'skip'});
      }
      traces.push({type:'scatter', mode:'lines', x:[MEDIAN[r],MEDIAN[r]], y:[DIAG_YMAX[r],0], xaxis:ax.x, yaxis:ax.y, line:{color:'#ff0000', width:5, dash:'15px,8px'}, hoverinfo:'skip'});
    }
    panelIndex[r+'_'+c] = ax;
  }
}

PANEL_TABLE.forEach(([r,c,outer,mid,inner,dots])=>{
  const ax = panelIndex[r+'_'+c];
  traces.push({type:'scatter', mode:'markers', x:dots.map(p=>p[0]), y:dots.map(p=>p[1]), xaxis:ax.x, yaxis:ax.y, marker:{size:2.6, color:'#000'}, hoverinfo:'skip'});
  [[outer,'#dfdfdf'],[mid,'#b3b3b3'],[inner,'#8e8e8e']].forEach(([pts,col])=>{
    traces.push({type:'scatter', mode:'lines', x:closed(pts,0), y:closed(pts,1), xaxis:ax.x, yaxis:ax.y, fill:'toself', fillcolor:col, line:{color:GRAY_LINE, width:2.3, shape:'spline', smoothing:0.9}, hoverinfo:'skip'});
  });
  if (TRUTH[c]!==null && TRUTH[r]!==null){
    traces.push({type:'scatter', mode:'markers', x:[TRUTH[c]], y:[TRUTH[r]], xaxis:ax.x, yaxis:ax.y, marker:{symbol:'circle', size:20, color:'#0000ff', line:{color:'#000', width:1.2}}, hoverinfo:'skip'});
  }
  traces.push({type:'scatter', mode:'markers', x:[MEDIAN[c]], y:[MEDIAN[r]], xaxis:ax.x, yaxis:ax.y, marker:{symbol:'diamond', size:20, color:'#ff0000', line:{color:'#000', width:1.5}}, hoverinfo:'skip'});
});

Plotly.newPlot('plot', traces, layout, {staticPlot:true, displayModeBar:false});
</script>
</body></html>
